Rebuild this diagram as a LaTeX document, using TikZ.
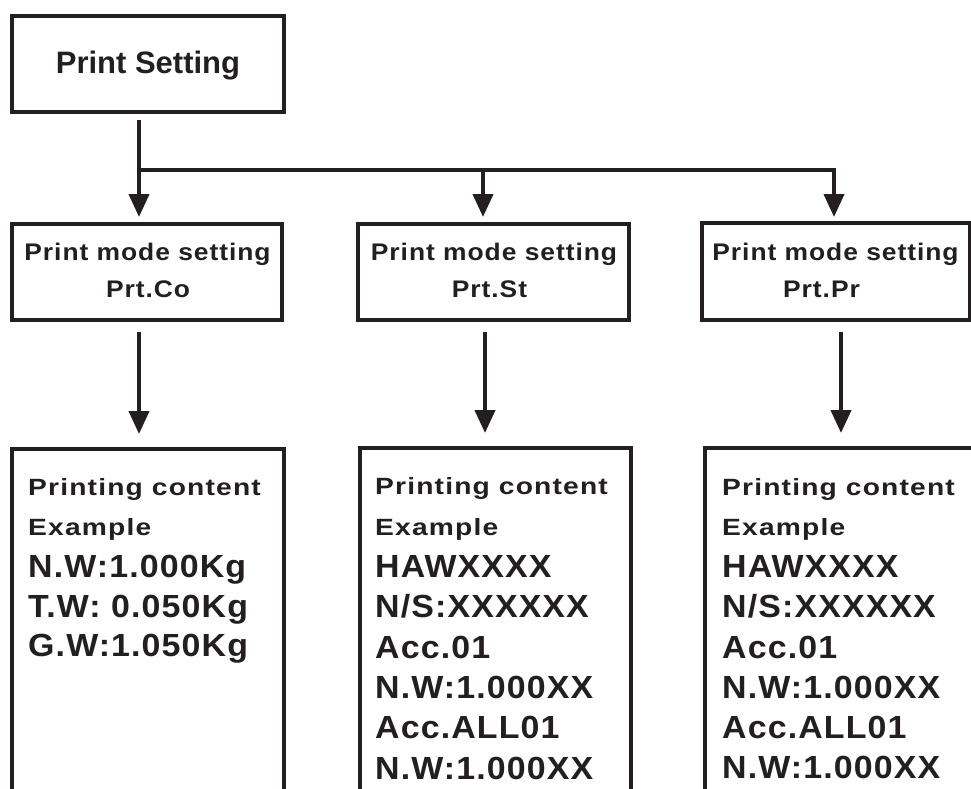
\documentclass[tikz,border=0pt]{standalone}
\usepackage{fontspec}
\setmainfont{Liberation Sans}
\newfontfamily\fTop{Liberation Sans Bold}
\newfontfamily\fMid{Liberation Sans Bold}[FakeStretch=1.1,LetterSpace=4]
\newfontfamily\fSm{Liberation Sans Bold}[FakeStretch=1.2,LetterSpace=5]
\newfontfamily\fBig{Liberation Sans Bold}[FakeStretch=1.06,LetterSpace=3.5]
\usetikzlibrary{arrows.meta}
\definecolor{ink}{RGB}{35,31,32}
\begin{document}
\begin{tikzpicture}[x=1pt,y=-1pt,
  box/.style={draw=ink, line width=4pt, inner sep=0pt, outer sep=0pt, anchor=north west},
  conn/.style={draw=ink, line width=4pt},
  arr/.style={draw=ink, line width=4pt, -{Triangle[length=23pt,width=20pt]}},
  toptxt/.style={anchor=base, text=ink, inner sep=0pt, font=\fTop\fontsize{31}{31}\selectfont},
  midtxt/.style={anchor=base, text=ink, inner sep=0pt, font=\fMid\fontsize{24}{24}\selectfont},
  smtxt/.style={anchor=base west, text=ink, inner sep=0pt, font=\fSm\fontsize{23.5}{23.5}\selectfont},
  bigtxt/.style={anchor=base west, text=ink, inner sep=0pt, font=\fBig\fontsize{32}{32}\selectfont}]
\useasboundingbox (0,0) rectangle (971,788);
\clip (0,0) rectangle (971,788);
\fill[white] (0,0) rectangle (971,788);

% boxes
\node[box, minimum width=272pt, minimum height=96pt] (top) at (12,16) {};
\node[box, minimum width=270pt, minimum height=96pt] (m1) at (12,224) {};
\node[box, minimum width=271pt, minimum height=96pt] (m2) at (358,224) {};
\node[box, minimum width=268pt, minimum height=97pt] (m3) at (702,223) {};
\node[box, minimum width=272pt, minimum height=400pt] (b1) at (12,449) {};
\node[box, minimum width=271pt, minimum height=400pt] (b2) at (360,448) {};
\node[box, minimum width=300pt, minimum height=400pt] (b3) at (705,448) {};

% texts
\node[toptxt] (tt) at (148,73) {Print Setting};
\node[midtxt] (m1a) at (147.5,260) {Print mode setting};
\node[midtxt] (m1b) at (148,297) {Prt.Co};
\node[midtxt] (m2a) at (494,260) {Print mode setting};
\node[midtxt] (m2b) at (489.5,297) {Prt.St};
\node[midtxt] (m3a) at (835.5,260) {Print mode setting};
\node[midtxt] (m3b) at (821.5,297) {Prt.Pr};

\node[smtxt] (b1a) at (28,495) {Printing content};
\node[smtxt] (b1b) at (28,535) {Example};
\node[bigtxt] (b1c) at (28,577) {N.W:1.000Kg};
\node[bigtxt] (b1d) at (28,617) {T.W: 0.050Kg};
\node[bigtxt] (b1e) at (28,656) {G.W:1.050Kg};

\node[smtxt] (b2a) at (375,494) {Printing content};
\node[smtxt] (b2b) at (375,535) {Example};
\node[bigtxt] (b2c) at (375,577) {HAWXXXX};
\node[bigtxt] (b2d) at (375,617) {N/S:XXXXXX};
\node[bigtxt] (b2e) at (375,658) {Acc.01};
\node[bigtxt] (b2f) at (375,698) {N.W:1.000XX};
\node[bigtxt] (b2g) at (375,738) {Acc.ALL01};
\node[bigtxt] (b2h) at (375,779) {N.W:1.000XX};

\node[smtxt] (b3a) at (722,495) {Printing content};
\node[smtxt] (b3b) at (722,535) {Example};
\node[bigtxt] (b3c) at (722,577) {HAWXXXX};
\node[bigtxt] (b3d) at (722,617) {N/S:XXXXXX};
\node[bigtxt] (b3e) at (722,658) {Acc.01};
\node[bigtxt] (b3f) at (722,698) {N.W:1.000XX};
\node[bigtxt] (b3g) at (722,738) {Acc.ALL01};
\node[bigtxt] (b3h) at (722,778) {N.W:1.000XX};

% connectors
\coordinate (j1) at (139,170);
\coordinate (j2) at (483,170);
\coordinate (j3) at (834,170);
\draw[arr, shorten <=8pt, shorten >=7pt] (top.south -| j1) -- (j1 |- m1.north);
\draw[conn] (j1) -- (j2);
\draw[arr, shorten >=7pt] (j2) -- (j2 |- m2.north);
\draw[arr, shorten >=6pt] (j1) -- (j3) -- (j3 |- m3.north);

\draw[arr, shorten <=12pt, shorten >=15pt] ([xshift=-8pt]m1.south) -- ([xshift=-8pt]m1.south |- b1.north);
\draw[arr, shorten <=12pt, shorten >=15pt] ([xshift=-8.5pt]m2.south) -- ([xshift=-8.5pt]m2.south |- b2.north);
\draw[arr, shorten <=12pt, shorten >=15pt] ([xshift=5pt]m3.south) -- ([xshift=5pt]m3.south |- b3.north);
\end{tikzpicture}
\end{document}
